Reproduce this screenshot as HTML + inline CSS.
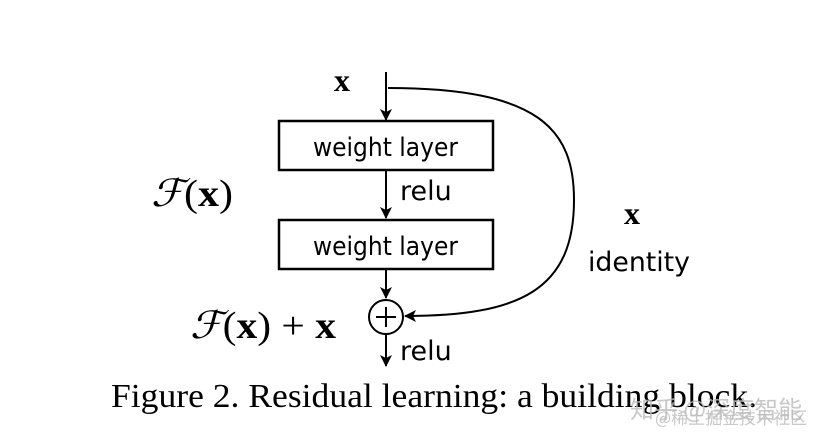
<!DOCTYPE html>
<html><head><meta charset="utf-8"><style>
html,body{margin:0;padding:0;background:#fff;}
svg{display:block;}
</style></head><body>
<svg width="826" height="446" viewBox="0 0 826 446" xmlns="http://www.w3.org/2000/svg">
<defs>
<marker id="ah" markerWidth="12" markerHeight="12" refX="11" refY="6" orient="auto" markerUnits="userSpaceOnUse">
<path d="M0,0 L12,6 L0,12 L3,6 Z" fill="#000"/>
</marker>
</defs>
<g stroke="#000" stroke-width="2" fill="none">
<line x1="386" y1="72" x2="386" y2="120" marker-end="url(#ah)"/>
<rect x="279" y="121" width="214" height="49" stroke-width="2.5"/>
<line x1="386" y1="170" x2="386" y2="218" marker-end="url(#ah)"/>
<rect x="279" y="220" width="214" height="49" stroke-width="2.5"/>
<line x1="386" y1="269" x2="386" y2="298" marker-end="url(#ah)"/>
<circle cx="386" cy="317" r="17"/>
<line x1="376" y1="317" x2="396" y2="317"/>
<line x1="386" y1="307" x2="386" y2="327"/>
<line x1="386" y1="334" x2="386" y2="366" marker-end="url(#ah)"/>
<path d="M388,88 C540,88 574,130 574,200 C574,290 520,316 405,316" marker-end="url(#ah)"/>
</g>
<g font-family="'DejaVu Sans','Liberation Sans',sans-serif" fill="#000">
<text x="313" y="156" font-size="26" textLength="145" lengthAdjust="spacingAndGlyphs">weight layer</text>
<text x="313" y="255" font-size="26" textLength="145" lengthAdjust="spacingAndGlyphs">weight layer</text>
<text x="400" y="200" font-size="27">relu</text>
<text x="400" y="360" font-size="27">relu</text>
<text x="588" y="271" font-size="27" textLength="102" lengthAdjust="spacingAndGlyphs">identity</text>
</g>
<g font-family="'Liberation Serif',serif" fill="#000">
<text x="334" y="91" font-size="32" font-weight="bold">x</text>
<text x="624" y="224" font-size="32" font-weight="bold">x</text>
<text x="151" y="206" font-size="38" font-style="italic" textLength="82" lengthAdjust="spacingAndGlyphs">ℱ<tspan font-style="normal">(</tspan><tspan font-weight="bold" font-style="normal">x</tspan><tspan font-style="normal">)</tspan></text>
<text x="190" y="338" font-size="38" font-style="italic" textLength="146" lengthAdjust="spacingAndGlyphs">ℱ<tspan font-style="normal">(</tspan><tspan font-weight="bold" font-style="normal">x</tspan><tspan font-style="normal">) + </tspan><tspan font-weight="bold" font-style="normal">x</tspan></text>
<text x="111" y="407" font-size="34" textLength="646" lengthAdjust="spacingAndGlyphs">Figure 2. Residual learning: a building block.</text>
</g>
<text x="630" y="418" font-family="'Noto Sans CJK SC',sans-serif" font-size="24" fill="#bbb" opacity="0.8">知乎 @深度智能</text>
<text x="655" y="424" font-family="'Noto Sans CJK SC',sans-serif" font-size="17" fill="#bbb" opacity="0.8">@稀土掘金技术社区</text>
</svg>
</body></html>
